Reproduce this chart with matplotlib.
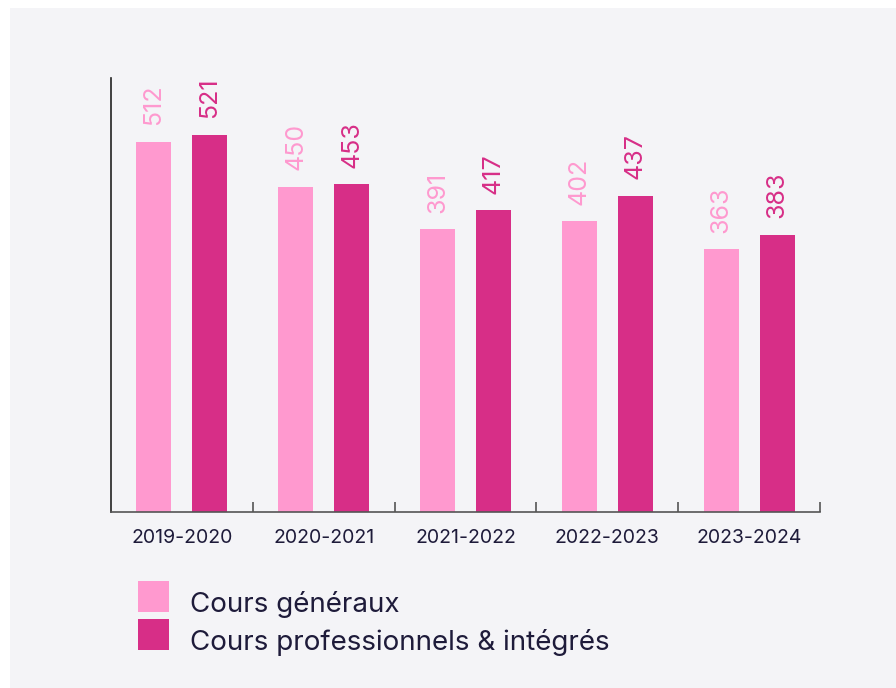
import matplotlib.pyplot as plt
from matplotlib.patches import Rectangle
import numpy as np

years = ["2019-2020", "2020-2021", "2021-2022", "2022-2023", "2023-2024"]
generaux = [512, 450, 391, 402, 363]
pro = [521, 453, 417, 437, 383]
series_names = ["Cours généraux", "Cours professionnels & intégrés"]

light = "#ff99cf"
dark = "#d72e87"
txt = "#1e1b3a"

plt.rcParams['font.family'] = ['Inter', 'DejaVu Sans']

W, H = 896, 688
fig = plt.figure(figsize=(W / 100, H / 100), dpi=100, facecolor="white")
fig.patches.append(Rectangle((10 / W, 0), 1, 1 - 8 / H, transform=fig.transFigure,
                             facecolor="#f4f4f7", edgecolor="none", zorder=-10))

ax = fig.add_axes([111 / W, 1 - 512 / H, 709 / W, 434 / H])
ax.set_facecolor("none")

x = np.arange(len(years))
w = 0.247
off = 0.197
b1 = ax.bar(x - off, generaux, w, color=light)
b2 = ax.bar(x + off, pro, w, color=dark)

for xi, v in zip(x, generaux):
    ax.annotate(str(v), (xi - off, v), xytext=(0, 12), textcoords="offset points",
                rotation=90, ha="center", va="bottom", fontsize=18, color=light)
for xi, v in zip(x, pro):
    ax.annotate(str(v), (xi + off, v), xytext=(0, 12), textcoords="offset points",
                rotation=90, ha="center", va="bottom", fontsize=18, color=dark)

ax.set_xlim(-0.5, 4.5)
ax.set_ylim(0, 600)
ax.set_yticks([])
ax.set_xticks(x)
ax.set_xticklabels(years, fontsize=14, color=txt)
ax.tick_params(axis="x", which="major", length=0, pad=12)
ax.set_xticks(np.arange(0.5, 5, 1), minor=True)
ax.tick_params(axis="x", which="minor", direction="in", length=7, width=1.2, color="#555555")

for s in ["top", "right"]:
    ax.spines[s].set_visible(False)
ax.spines["left"].set_color("#222222")
ax.spines["bottom"].set_color("#555555")
ax.spines["left"].set_linewidth(1.2)
ax.spines["bottom"].set_linewidth(1.2)

# legend drawn by hand: square swatches + labels
for i, (name, col) in enumerate(zip(series_names, [light, dark])):
    top = 581 + 38 * i
    fig.patches.append(Rectangle((138 / W, 1 - (top + 31) / H), 31 / W, 31 / H,
                                 transform=fig.transFigure, facecolor=col, edgecolor="none"))
    fig.text(190 / W, 1 - (top + 31) / H, name, fontsize=20, color=txt,
             ha="left", va="baseline")

fig.savefig("out.png", dpi=100, facecolor=fig.get_facecolor())
